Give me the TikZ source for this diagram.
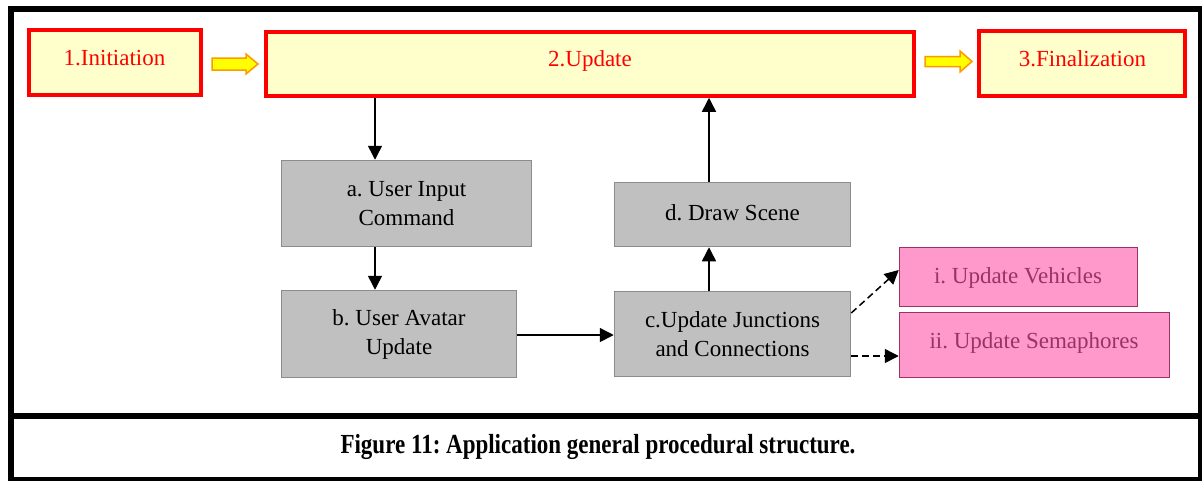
\documentclass[tikz,border=0pt]{standalone}
\usepackage{fontspec}
\usepackage{graphicx}
\setmainfont{Liberation Serif}
\usetikzlibrary{arrows.meta}
\definecolor{boxyellow}{HTML}{FFFFCC}
\definecolor{boxred}{HTML}{FF0000}
\definecolor{boxgrey}{HTML}{C0C0C0}
\definecolor{greyline}{HTML}{8C8C8C}
\definecolor{boxpink}{HTML}{FF99CC}
\definecolor{pinkline}{HTML}{993366}
\definecolor{arrowyellow}{HTML}{FFFF00}
\definecolor{arroworange}{HTML}{FF9900}
\frenchspacing
\begin{document}
\begin{tikzpicture}[x=1pt,y=-1pt,
  ybox/.style={draw=boxred, line width=3.5pt, fill=boxyellow, inner sep=0pt},
  ytext/.style={text=boxred, anchor=base, inner sep=0pt, font=\rmfamily\fontsize{23}{29}\selectfont},
  gbox/.style={draw=greyline, line width=1.5pt, fill=boxgrey, inner sep=0pt, align=center, font=\rmfamily\fontsize{23}{29}\selectfont},
  pbox/.style={draw=pinkline, line width=1.5pt, fill=boxpink, inner sep=0pt},
  ptext/.style={text=pinkline, anchor=base, inner sep=0pt, font=\rmfamily\fontsize{23}{29}\selectfont},
  blockarrow/.style={draw=arroworange, line width=1.5pt, fill=arrowyellow, line join=miter},
  arr/.style={line width=1.5pt, -{Triangle[length=14pt,width=14pt]}},
  darr/.style={line width=1.5pt, dash pattern=on 7pt off 4pt, -{Triangle[length=14pt,width=14pt]}}
]
\useasboundingbox (0,0) rectangle (1202,480);
\clip (0,0) rectangle (1202,480);
% frame
\draw[line width=6pt] (11,9) rectangle (1201,480);
\draw[line width=6pt] (11,415.5) -- (1201,415.5);

% top boxes
\node[ybox, minimum width=172pt, minimum height=65pt] (init) at (115,62.5) {};
\node[ytext] (initT) at (114.5,65) {1.Initiation};
\node[ybox, minimum width=648pt, minimum height=64pt] (upd) at (590,64) {};
\node[ytext] (updT) at (590,66) {2.Update};
\node[ybox, minimum width=206pt, minimum height=65pt] (fin) at (1082,63.5) {};
\node[ytext] (finT) at (1082.5,66) {3.Finalization};

% block arrows
\draw[blockarrow] (212,58) -- (246,58) -- (246,54) -- (258,64) -- (246,74) -- (246,70) -- (212,70) -- cycle;
\draw[blockarrow] (925,56.5) -- (960,56.5) -- (960,51) -- (972,61.5) -- (960,72) -- (960,66.5) -- (925,66.5) -- cycle;

% grey boxes
\node[gbox, minimum width=250pt, minimum height=86pt] (a) at (406.5,203.5) {a. User Input\\Command};
\node[gbox, minimum width=235pt, minimum height=87pt] (b) at (399,334) {b. User Avatar\\Update};
\node[gbox, minimum width=236pt, minimum height=85pt] (c) at (732.5,334) {c.Update Junctions\\and Connections};
\node[gbox, minimum width=236pt, minimum height=64pt] (d) at (732.5,214.5) {\raisebox{3pt}{d. Draw Scene}};

% pink boxes
\node[pbox, minimum width=238pt, minimum height=59pt] (vi) at (1018.5,277) {};
\node[ptext] (viT) at (1018,283) {i. Update Vehicles};
\node[pbox, minimum width=270pt, minimum height=65pt] (vii) at (1034.5,345) {};
\node[ptext] (viiT) at (1034,348) {ii. Update Semaphores};

% connectors
\draw[arr] (upd.south -| 375,0) -- (a.north -| 375,0);
\draw[arr] (a.south -| 375,0) -- (b.north -| 375,0);
\draw[arr] (b.east |- 0,335) -- (c.west |- 0,335);
\draw[arr] (c.north -| 709,0) -- (d.south -| 709,0);
\draw[arr] (d.north -| 709,0) -- (upd.south -| 709,0);
\draw[darr] (c.east |- 0,313) -- (vi.west |- 0,270);
\draw[darr] (c.east |- 0,356) -- (vii.west |- 0,356);

% caption
\node (cap) at (598,447) {\fontsize{23}{28}\selectfont\bfseries\scalebox{1}[1.2]{Figure 11: Application general procedural structure.}};
\end{tikzpicture}
\end{document}
